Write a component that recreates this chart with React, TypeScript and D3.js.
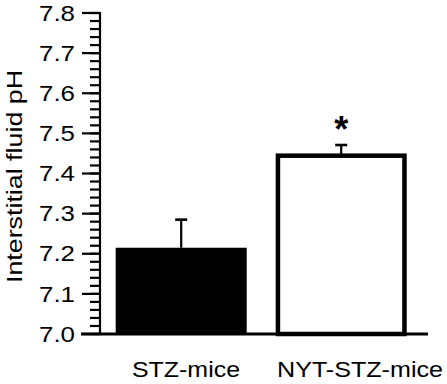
import React from "react";
import * as d3 from "d3";

const categories = ["STZ-mice", "NYT-STZ-mice"];
const means = [7.215, 7.445];
const errors = [0.07, 0.026];
const significance = ["", "*"];
const fills = ["#000000", "#ffffff"];
const yTickLabels = ["7.0", "7.1", "7.2", "7.3", "7.4", "7.5", "7.6", "7.7", "7.8"];
const yTitle = "Interstitial fluid pH";

const W = 447;
const H = 384;

export default function App() {
  const y = d3.scaleLinear().domain([7.0, 7.8]).range([334, 13]);
  const x = d3
    .scaleBand<string>()
    .domain(categories)
    .range([100, 422.4])
    .paddingInner(0.181)
    .paddingOuter(0.098);
  const bw = x.bandwidth();
  const majorTicks = yTickLabels.map((t) => +t);
  const minorTicks = d3.range(0, 41).map((i) => 7.0 + i * 0.02).filter((v) => v <= 7.8001);
  const labelCenters = [186, 360];
  const labelWidths = [108, 166];
  const font = "Liberation Sans, Arial, sans-serif";
  const fs = 21.5;

  return (
    <svg
      width={W}
      height={H}
      style={{ position: "absolute", left: 0, top: 0, background: "#fff" }}
      fontFamily={font}
    >
      <rect x={0} y={0} width={W} height={H} fill="#fff" />
      {/* bars */}
      {categories.map((c, i) => {
        const x0 = x(c)!;
        const top = y(means[i]);
        const base = y(7.0);
        const sw = 4.5;
        if (fills[i] === "#000000") {
          return <rect key={c} x={x0} y={top} width={bw} height={base - top} fill="#000" />;
        }
        return (
          <rect
            key={c}
            x={x0 + sw / 2}
            y={top + sw / 2 - 2}
            width={bw - sw}
            height={base - top - sw / 2 + 2}
            fill="#fff"
            stroke="#000"
            strokeWidth={sw}
          />
        );
      })}
      {/* error bars */}
      {categories.map((c, i) => {
        const cx = x(c)! + bw / 2;
        const top = y(means[i] + errors[i]);
        const barTop = y(means[i]);
        return (
          <g key={"e" + c} stroke="#000">
            <line x1={cx} x2={cx} y1={barTop} y2={top} strokeWidth={2.2} />
            <line x1={cx - 6} x2={cx + 6} y1={top} y2={top} strokeWidth={2.6} />
          </g>
        );
      })}
      {/* significance */}
      {categories.map((c, i) =>
        significance[i] ? (
          <text
            key={"s" + c}
            x={x(c)! + bw / 2}
            y={y(means[i] + errors[i]) - 3}
            textAnchor="middle"
            fontSize={36}
            fontWeight="bold"
          >
            {significance[i]}
          </text>
        ) : null
      )}
      {/* y axis */}
      <line x1={100} x2={100} y1={y(7.8) - 1} y2={y(7.0)} stroke="#000" strokeWidth={2.2} />
      {minorTicks.map((v, i) => (
        <line key={"m" + i} x1={90} x2={100} y1={y(v)} y2={y(v)} stroke="#000" strokeWidth={2.2} />
      ))}
      {majorTicks.map((v, i) => (
        <line key={"M" + i} x1={82} x2={100} y1={y(v)} y2={y(v)} stroke="#000" strokeWidth={2.2} />
      ))}
      {yTickLabels.map((t, i) => (
        <text
          key={"t" + i}
          x={75}
          y={y(majorTicks[i]) + 7.7}
          textAnchor="end"
          fontSize={fs}
          textLength={36}
          lengthAdjust="spacingAndGlyphs"
        >
          {t}
        </text>
      ))}
      {/* baseline */}
      <line x1={81} x2={428} y1={y(7.0)} y2={y(7.0)} stroke="#000" strokeWidth={3.2} />
      {/* x labels */}
      {categories.map((c, i) => (
        <text
          key={"l" + c}
          x={labelCenters[i]}
          y={376.5}
          textAnchor="middle"
          fontSize={fs}
          textLength={labelWidths[i]}
          lengthAdjust="spacingAndGlyphs"
        >
          {c}
        </text>
      ))}
      {/* y title */}
      <text
        transform={`translate(21.5, 176.5) rotate(-90)`}
        textAnchor="middle"
        fontSize={fs}
        textLength={213}
        lengthAdjust="spacingAndGlyphs"
      >
        {yTitle}
      </text>
    </svg>
  );
}
